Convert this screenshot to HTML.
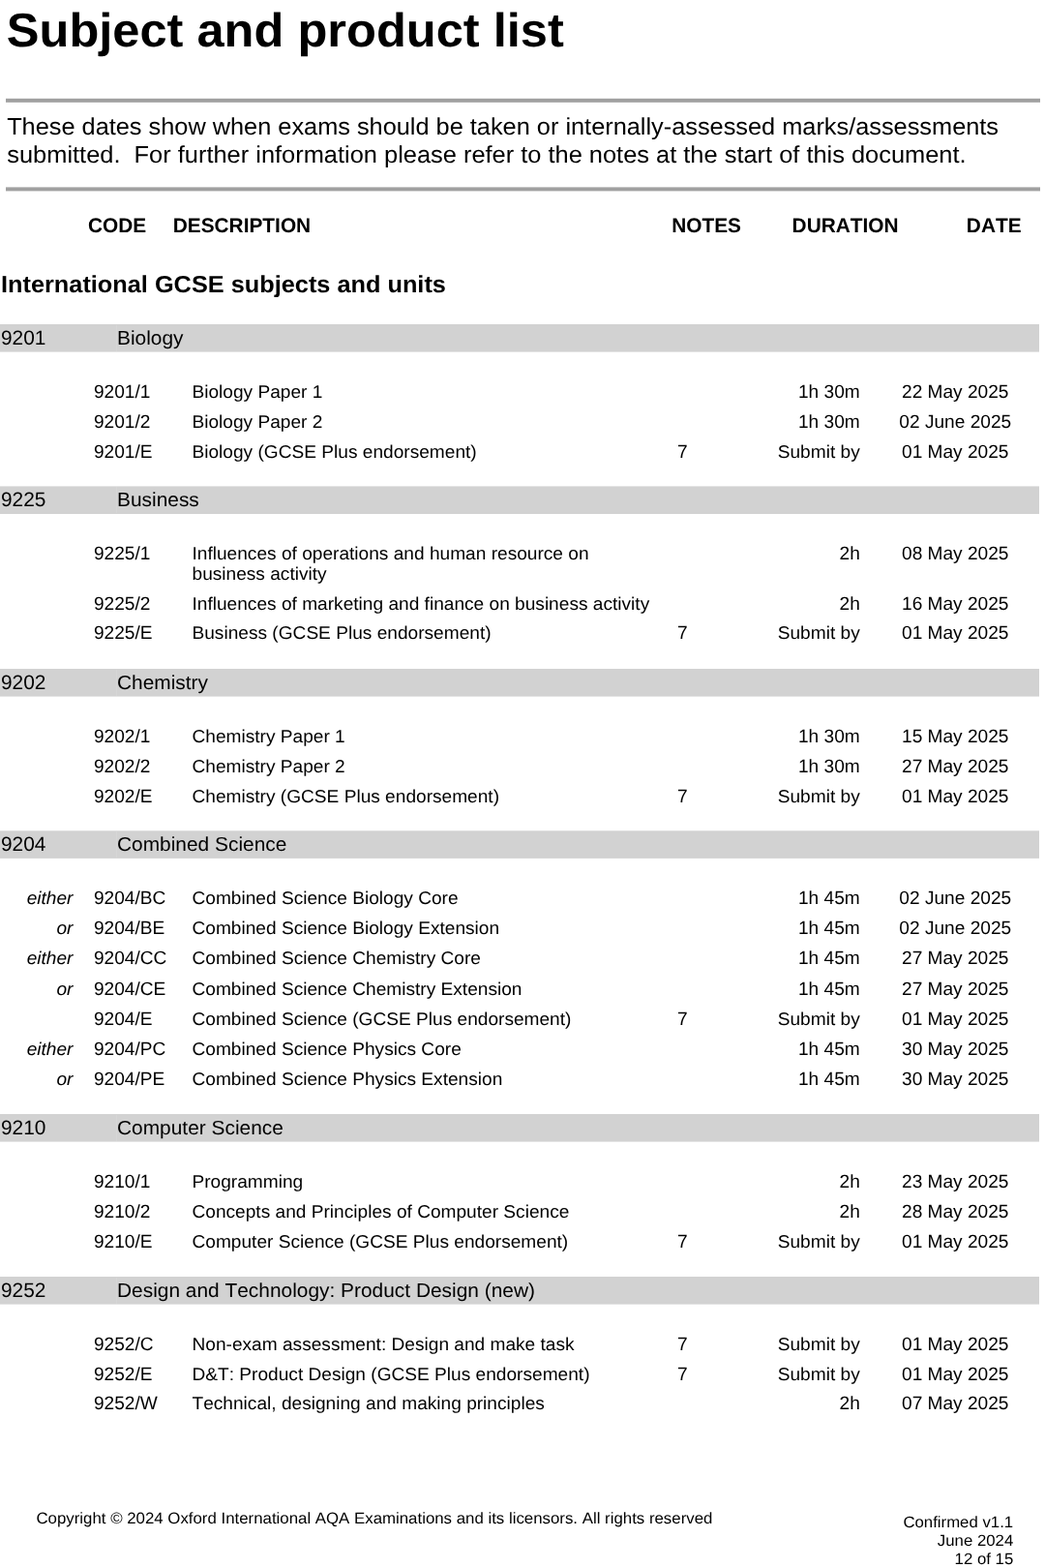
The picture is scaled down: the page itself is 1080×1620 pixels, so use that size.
<!DOCTYPE html>
<html lang="en">
<head>
<meta charset="utf-8">
<title>Subject and product list</title>
<style>
html,body{margin:0;padding:0;background:#fff;}
body{width:1080px;height:1620px;position:relative;overflow:hidden;
 font-family:"Liberation Sans",sans-serif;color:#000;
 font-kerning:none;text-rendering:geometricPrecision;}
#page{position:absolute;left:0;top:0;width:1080px;height:1620px;overflow:hidden;background:#fff;}
#page header,#page section,#page footer{display:block;position:static;margin:0;padding:0;}
#page div,#page h1,#page h2,#page p{position:absolute;white-space:pre;line-height:1;margin:0;padding:0;
 font-weight:normal;transform:scaleY(0.969);transform-origin:0 0;}
#page .bar,#page .rule,#page .seam{transform:none;}
#page .seam{background:#d6d6d6;}
#page .b,#page h1,#page h2{font-weight:bold;}
#page .i{font-style:italic;}
</style>
</head>
<body>
<div id="page">
<header>
<h1 class="b" style="left:6.84px;top:7px;font-size:50.57px">Subject and product list</h1>
<div class="rule" style="left:6px;top:101px;width:1068.8px;height:5px;background:linear-gradient(#ececec 0px,#ececec 1px,#a0a0a0 1px,#a0a0a0 4px,#b3b3b3 4px,#b3b3b3 5px)"></div>
<p style="left:7.13px;top:120px;font-size:25.34px">These dates show when exams should be taken or internally-assessed marks/assessments</p>
<p style="left:7.29px;top:149px;font-size:25.42px">submitted.  For further information please refer to the notes at the start of this document.</p>
<div class="rule" style="left:6px;top:193px;width:1068.8px;height:5px;background:linear-gradient(#c6c6c6 0px,#c6c6c6 1px,#a0a0a0 1px,#a0a0a0 4px,#d9d9d9 4px,#d9d9d9 5px)"></div>
</header>
<section class="cols">
<div class="b" style="left:91.04px;top:224px;font-size:20.85px;transform:scaleY(1.008)">CODE</div>
<div class="b" style="left:178.71px;top:224px;font-size:20.85px;transform:scaleY(1.008)">DESCRIPTION</div>
<div class="b" style="left:694.21px;top:224px;font-size:20.85px;transform:scaleY(1.008)">NOTES</div>
<div class="b" style="left:818.61px;top:224px;font-size:20.85px;transform:scaleY(1.008)">DURATION</div>
<div class="b" style="left:998.86px;top:224px;font-size:20.85px;transform:scaleY(1.008)">DATE</div>
</section>
<h2 class="b" style="left:1.01px;top:283px;font-size:25.32px">International GCSE subjects and units</h2>
<section class="subject">
<div class="bar" style="left:0px;top:335px;width:1074px;height:29px;background:linear-gradient(#d2d2d2 0px,#d2d2d2 28px,#e4e4e4 28px,#e4e4e4 29px)"></div>
<div class="seam" style="left:120px;top:336px;width:1px;height:27px"></div>
<div style="left:0.90px;top:340px;font-size:20.9px;transform:scaleY(1.0)">9201</div>
<div style="left:121.00px;top:340px;font-size:20.9px">Biology</div>
<div style="left:96.90px;top:396px;font-size:19.13px;transform:scaleY(1.0)">9201/1</div>
<div style="left:198.50px;top:396px;font-size:19.13px">Biology Paper 1</div>
<div style="left:824.99px;top:396px;font-size:19.13px;transform:scaleY(1.0)">1h 30m</div>
<div style="left:932.00px;top:396px;font-size:19.13px;transform:scaleY(1.0)">22 May 2025</div>
<div style="left:96.90px;top:427px;font-size:19.13px;transform:scaleY(1.0)">9201/2</div>
<div style="left:198.50px;top:427px;font-size:19.13px">Biology Paper 2</div>
<div style="left:824.99px;top:427px;font-size:19.13px;transform:scaleY(1.0)">1h 30m</div>
<div style="left:929.33px;top:427px;font-size:19.13px;transform:scaleY(1.0)">02 June 2025</div>
<div style="left:96.90px;top:458px;font-size:19.13px;transform:scaleY(1.0)">9201/E</div>
<div style="left:198.50px;top:458px;font-size:19.13px">Biology (GCSE Plus endorsement)</div>
<div style="left:700.00px;top:458px;font-size:19.13px;transform:scaleY(1.0)">7</div>
<div style="left:803.74px;top:458px;font-size:19.13px">Submit by</div>
<div style="left:932.00px;top:458px;font-size:19.13px;transform:scaleY(1.0)">01 May 2025</div>
</section>
<section class="subject">
<div class="bar" style="left:0px;top:502px;width:1074px;height:29px;background:linear-gradient(#e4e4e4 0px,#e4e4e4 1px,#d2d2d2 1px,#d2d2d2 29px)"></div>
<div class="seam" style="left:120px;top:503px;width:1px;height:27px"></div>
<div style="left:0.90px;top:507px;font-size:20.9px;transform:scaleY(1.0)">9225</div>
<div style="left:121.00px;top:507px;font-size:20.9px">Business</div>
<div style="left:96.90px;top:563px;font-size:19.13px;transform:scaleY(1.0)">9225/1</div>
<div style="left:198.50px;top:563px;font-size:19.13px">Influences of operations and human resource on</div>
<div style="left:198.50px;top:584px;font-size:19.13px">business activity</div>
<div style="left:867.52px;top:563px;font-size:19.13px;transform:scaleY(1.0)">2h</div>
<div style="left:932.00px;top:563px;font-size:19.13px;transform:scaleY(1.0)">08 May 2025</div>
<div style="left:96.90px;top:615px;font-size:19.13px;transform:scaleY(1.0)">9225/2</div>
<div style="left:198.50px;top:615px;font-size:19.13px">Influences of marketing and finance on business activity</div>
<div style="left:867.52px;top:615px;font-size:19.13px;transform:scaleY(1.0)">2h</div>
<div style="left:932.00px;top:615px;font-size:19.13px;transform:scaleY(1.0)">16 May 2025</div>
<div style="left:96.90px;top:645px;font-size:19.13px;transform:scaleY(1.0)">9225/E</div>
<div style="left:198.50px;top:645px;font-size:19.13px">Business (GCSE Plus endorsement)</div>
<div style="left:700.00px;top:645px;font-size:19.13px;transform:scaleY(1.0)">7</div>
<div style="left:803.74px;top:645px;font-size:19.13px">Submit by</div>
<div style="left:932.00px;top:645px;font-size:19.13px;transform:scaleY(1.0)">01 May 2025</div>
</section>
<section class="subject">
<div class="bar" style="left:0px;top:691px;width:1074px;height:29px;background:linear-gradient(#d2d2d2 0px,#d2d2d2 28px,#e4e4e4 28px,#e4e4e4 29px)"></div>
<div class="seam" style="left:120px;top:692px;width:1px;height:27px"></div>
<div style="left:0.90px;top:696px;font-size:20.9px;transform:scaleY(1.0)">9202</div>
<div style="left:121.00px;top:696px;font-size:20.9px">Chemistry</div>
<div style="left:96.90px;top:752px;font-size:19.13px;transform:scaleY(1.0)">9202/1</div>
<div style="left:198.50px;top:752px;font-size:19.13px">Chemistry Paper 1</div>
<div style="left:824.99px;top:752px;font-size:19.13px;transform:scaleY(1.0)">1h 30m</div>
<div style="left:932.00px;top:752px;font-size:19.13px;transform:scaleY(1.0)">15 May 2025</div>
<div style="left:96.90px;top:783px;font-size:19.13px;transform:scaleY(1.0)">9202/2</div>
<div style="left:198.50px;top:783px;font-size:19.13px">Chemistry Paper 2</div>
<div style="left:824.99px;top:783px;font-size:19.13px;transform:scaleY(1.0)">1h 30m</div>
<div style="left:932.00px;top:783px;font-size:19.13px;transform:scaleY(1.0)">27 May 2025</div>
<div style="left:96.90px;top:814px;font-size:19.13px;transform:scaleY(1.0)">9202/E</div>
<div style="left:198.50px;top:814px;font-size:19.13px">Chemistry (GCSE Plus endorsement)</div>
<div style="left:700.00px;top:814px;font-size:19.13px;transform:scaleY(1.0)">7</div>
<div style="left:803.74px;top:814px;font-size:19.13px">Submit by</div>
<div style="left:932.00px;top:814px;font-size:19.13px;transform:scaleY(1.0)">01 May 2025</div>
</section>
<section class="subject">
<div class="bar" style="left:0px;top:858px;width:1074px;height:29px;background:linear-gradient(#dfdfdf 0px,#dfdfdf 1px,#d2d2d2 1px,#d2d2d2 28px,#d7d7d7 28px,#d7d7d7 29px)"></div>
<div class="seam" style="left:120px;top:859px;width:1px;height:27px"></div>
<div style="left:0.90px;top:863px;font-size:20.9px;transform:scaleY(1.0)">9204</div>
<div style="left:121.00px;top:863px;font-size:20.9px">Combined Science</div>
<div class="i" style="left:27.65px;top:919px;font-size:19.13px">either</div>
<div style="left:96.90px;top:919px;font-size:19.13px;transform:scaleY(1.0)">9204/BC</div>
<div style="left:198.50px;top:919px;font-size:19.13px">Combined Science Biology Core</div>
<div style="left:824.99px;top:919px;font-size:19.13px;transform:scaleY(1.0)">1h 45m</div>
<div style="left:929.33px;top:919px;font-size:19.13px;transform:scaleY(1.0)">02 June 2025</div>
<div class="i" style="left:58.49px;top:950px;font-size:19.13px">or</div>
<div style="left:96.90px;top:950px;font-size:19.13px;transform:scaleY(1.0)">9204/BE</div>
<div style="left:198.50px;top:950px;font-size:19.13px">Combined Science Biology Extension</div>
<div style="left:824.99px;top:950px;font-size:19.13px;transform:scaleY(1.0)">1h 45m</div>
<div style="left:929.33px;top:950px;font-size:19.13px;transform:scaleY(1.0)">02 June 2025</div>
<div class="i" style="left:27.65px;top:981px;font-size:19.13px">either</div>
<div style="left:96.90px;top:981px;font-size:19.13px;transform:scaleY(1.0)">9204/CC</div>
<div style="left:198.50px;top:981px;font-size:19.13px">Combined Science Chemistry Core</div>
<div style="left:824.99px;top:981px;font-size:19.13px;transform:scaleY(1.0)">1h 45m</div>
<div style="left:932.00px;top:981px;font-size:19.13px;transform:scaleY(1.0)">27 May 2025</div>
<div class="i" style="left:58.49px;top:1013px;font-size:19.13px">or</div>
<div style="left:96.90px;top:1013px;font-size:19.13px;transform:scaleY(1.0)">9204/CE</div>
<div style="left:198.50px;top:1013px;font-size:19.13px">Combined Science Chemistry Extension</div>
<div style="left:824.99px;top:1013px;font-size:19.13px;transform:scaleY(1.0)">1h 45m</div>
<div style="left:932.00px;top:1013px;font-size:19.13px;transform:scaleY(1.0)">27 May 2025</div>
<div style="left:96.90px;top:1044px;font-size:19.13px;transform:scaleY(1.0)">9204/E</div>
<div style="left:198.50px;top:1044px;font-size:19.13px">Combined Science (GCSE Plus endorsement)</div>
<div style="left:700.00px;top:1044px;font-size:19.13px;transform:scaleY(1.0)">7</div>
<div style="left:803.74px;top:1044px;font-size:19.13px">Submit by</div>
<div style="left:932.00px;top:1044px;font-size:19.13px;transform:scaleY(1.0)">01 May 2025</div>
<div class="i" style="left:27.65px;top:1075px;font-size:19.13px">either</div>
<div style="left:96.90px;top:1075px;font-size:19.13px;transform:scaleY(1.0)">9204/PC</div>
<div style="left:198.50px;top:1075px;font-size:19.13px">Combined Science Physics Core</div>
<div style="left:824.99px;top:1075px;font-size:19.13px;transform:scaleY(1.0)">1h 45m</div>
<div style="left:932.00px;top:1075px;font-size:19.13px;transform:scaleY(1.0)">30 May 2025</div>
<div class="i" style="left:58.49px;top:1106px;font-size:19.13px">or</div>
<div style="left:96.90px;top:1106px;font-size:19.13px;transform:scaleY(1.0)">9204/PE</div>
<div style="left:198.50px;top:1106px;font-size:19.13px">Combined Science Physics Extension</div>
<div style="left:824.99px;top:1106px;font-size:19.13px;transform:scaleY(1.0)">1h 45m</div>
<div style="left:932.00px;top:1106px;font-size:19.13px;transform:scaleY(1.0)">30 May 2025</div>
</section>
<section class="subject">
<div class="bar" style="left:0px;top:1151px;width:1074px;height:29px;background:linear-gradient(#d2d2d2 0px,#d2d2d2 28px,#e4e4e4 28px,#e4e4e4 29px)"></div>
<div class="seam" style="left:120px;top:1152px;width:1px;height:27px"></div>
<div style="left:0.90px;top:1156px;font-size:20.9px;transform:scaleY(1.0)">9210</div>
<div style="left:121.00px;top:1156px;font-size:20.9px">Computer Science</div>
<div style="left:96.90px;top:1212px;font-size:19.13px;transform:scaleY(1.0)">9210/1</div>
<div style="left:198.50px;top:1212px;font-size:19.13px">Programming</div>
<div style="left:867.52px;top:1212px;font-size:19.13px;transform:scaleY(1.0)">2h</div>
<div style="left:932.00px;top:1212px;font-size:19.13px;transform:scaleY(1.0)">23 May 2025</div>
<div style="left:96.90px;top:1243px;font-size:19.13px;transform:scaleY(1.0)">9210/2</div>
<div style="left:198.50px;top:1243px;font-size:19.13px">Concepts and Principles of Computer Science</div>
<div style="left:867.52px;top:1243px;font-size:19.13px;transform:scaleY(1.0)">2h</div>
<div style="left:932.00px;top:1243px;font-size:19.13px;transform:scaleY(1.0)">28 May 2025</div>
<div style="left:96.90px;top:1274px;font-size:19.13px;transform:scaleY(1.0)">9210/E</div>
<div style="left:198.50px;top:1274px;font-size:19.13px">Computer Science (GCSE Plus endorsement)</div>
<div style="left:700.00px;top:1274px;font-size:19.13px;transform:scaleY(1.0)">7</div>
<div style="left:803.74px;top:1274px;font-size:19.13px">Submit by</div>
<div style="left:932.00px;top:1274px;font-size:19.13px;transform:scaleY(1.0)">01 May 2025</div>
</section>
<section class="subject">
<div class="bar" style="left:0px;top:1319px;width:1074px;height:29px;background:linear-gradient(#d2d2d2 0px,#d2d2d2 28px,#e4e4e4 28px,#e4e4e4 29px)"></div>
<div class="seam" style="left:120px;top:1320px;width:1px;height:27px"></div>
<div style="left:0.90px;top:1324px;font-size:20.9px;transform:scaleY(1.0)">9252</div>
<div style="left:121.00px;top:1324px;font-size:20.9px">Design and Technology: Product Design (new)</div>
<div style="left:96.90px;top:1380px;font-size:19.13px;transform:scaleY(1.0)">9252/C</div>
<div style="left:198.50px;top:1380px;font-size:19.13px">Non-exam assessment: Design and make task</div>
<div style="left:700.00px;top:1380px;font-size:19.13px;transform:scaleY(1.0)">7</div>
<div style="left:803.74px;top:1380px;font-size:19.13px">Submit by</div>
<div style="left:932.00px;top:1380px;font-size:19.13px;transform:scaleY(1.0)">01 May 2025</div>
<div style="left:96.90px;top:1411px;font-size:19.13px;transform:scaleY(1.0)">9252/E</div>
<div style="left:198.50px;top:1411px;font-size:19.13px">D&amp;T: Product Design (GCSE Plus endorsement)</div>
<div style="left:700.00px;top:1411px;font-size:19.13px;transform:scaleY(1.0)">7</div>
<div style="left:803.74px;top:1411px;font-size:19.13px">Submit by</div>
<div style="left:932.00px;top:1411px;font-size:19.13px;transform:scaleY(1.0)">01 May 2025</div>
<div style="left:96.90px;top:1441px;font-size:19.13px;transform:scaleY(1.0)">9252/W</div>
<div style="left:198.50px;top:1441px;font-size:19.13px">Technical, designing and making principles</div>
<div style="left:867.52px;top:1441px;font-size:19.13px;transform:scaleY(1.0)">2h</div>
<div style="left:932.00px;top:1441px;font-size:19.13px;transform:scaleY(1.0)">07 May 2025</div>
</section>
<footer>
<div style="left:37.44px;top:1561px;font-size:16.84px">Copyright © 2024 Oxford International AQA Examinations and its licensors. All rights reserved</div>
<div style="left:933.38px;top:1565px;font-size:16.8px">Confirmed v1.1</div>
<div style="left:968.83px;top:1584px;font-size:16.8px">June 2024</div>
<div style="left:986.58px;top:1603px;font-size:16.8px">12 of 15</div>
</footer>
</div>
</body>
</html>
